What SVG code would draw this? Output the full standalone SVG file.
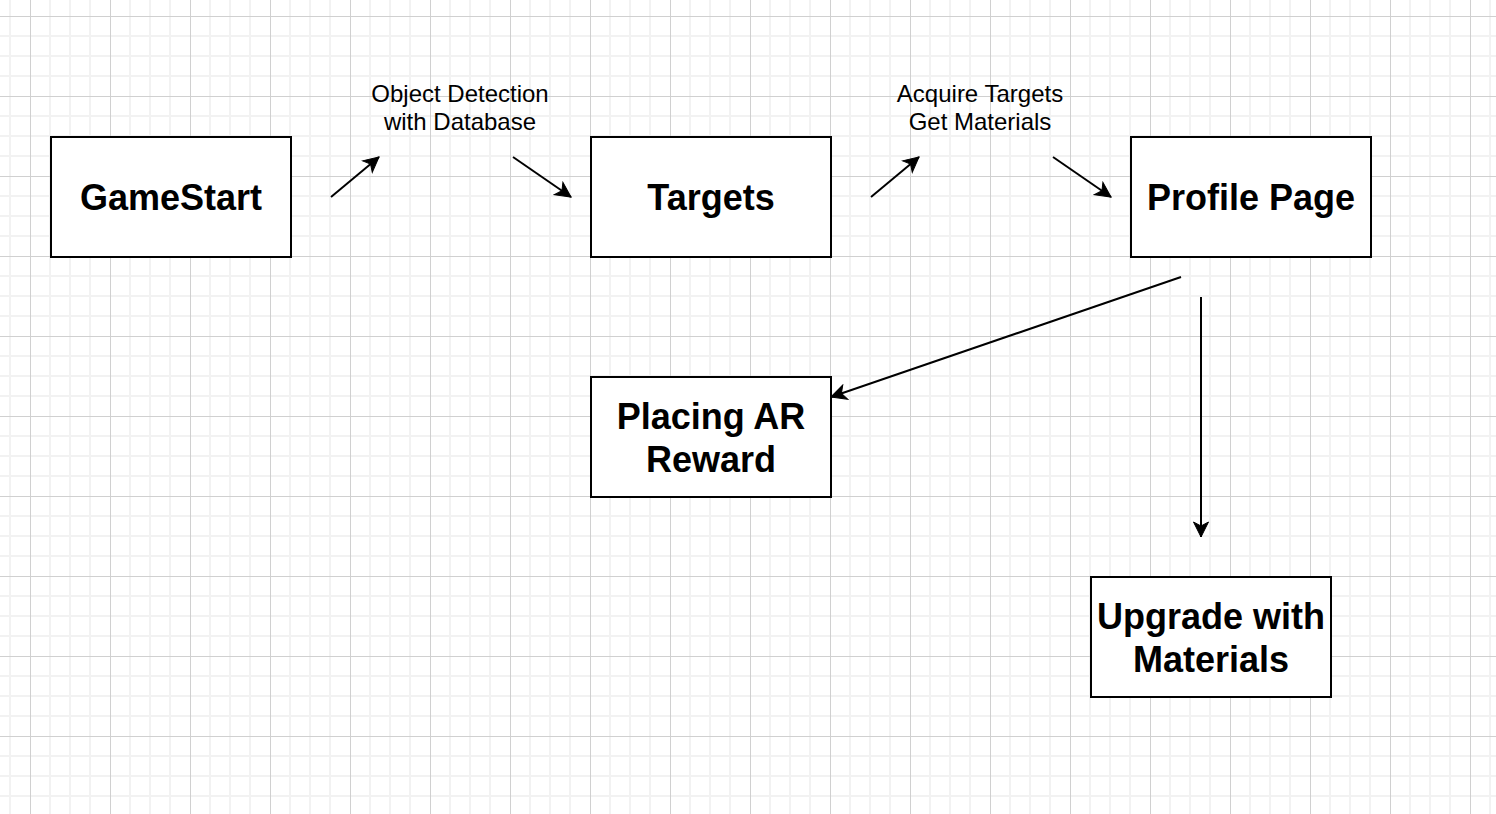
<svg xmlns="http://www.w3.org/2000/svg" width="1496" height="814" viewBox="0 0 1496 814">
<style>
.node rect{fill:#ffffff;stroke:#000000;stroke-width:2}
.nt{font-family:"Liberation Sans",Arial,Helvetica,sans-serif;font-size:36px;font-weight:bold;fill:#000;text-anchor:middle}
.lt{font-family:"Liberation Sans",Arial,Helvetica,sans-serif;font-size:24px;fill:#000;text-anchor:middle}
.conn line{stroke:#000;stroke-width:2;fill:none}
</style>
<defs>
<pattern id="grid" x="30" y="16" width="80" height="80" patternUnits="userSpaceOnUse">
<path d="M20 0V80M40 0V80M60 0V80M0 20H80M0 40H80M0 60H80" stroke="#f2f2f2" stroke-width="2" fill="none"/>
<path d="M0.5 0V80M0 0.5H80" stroke="#d0d0d0" stroke-width="1" fill="none"/>
</pattern>
<marker id="arr" markerUnits="userSpaceOnUse" markerWidth="20" markerHeight="20" viewBox="-16 -10 20 20" refX="0" refY="0" orient="auto">
<path d="M0 0L-15 -7.5L-11 0L-15 7.5Z" fill="#000" stroke="#000" stroke-width="1"/>
</marker>
</defs>
<rect width="1496" height="814" fill="#ffffff"/>
<rect width="1496" height="814" fill="url(#grid)"/>
<g id="connectors" class="conn">
<line x1="331" y1="197" x2="379" y2="157" marker-end="url(#arr)"/>
<line x1="513" y1="157" x2="571" y2="197" marker-end="url(#arr)"/>
<line x1="871" y1="197" x2="919" y2="157" marker-end="url(#arr)"/>
<line x1="1053" y1="157" x2="1111" y2="197" marker-end="url(#arr)"/>
<line x1="1181" y1="277" x2="831" y2="397" marker-end="url(#arr)"/>
<line x1="1201" y1="297" x2="1201" y2="537" marker-end="url(#arr)"/>
</g>
<g id="label-object-detection">
<text class="lt" x="460" y="101.5">Object Detection</text>
<text class="lt" x="460" y="129.5">with Database</text>
</g>
<g id="label-acquire-targets">
<text class="lt" x="980" y="101.5">Acquire Targets</text>
<text class="lt" x="980" y="129.5">Get Materials</text>
</g>
<g id="node-gamestart" class="node">
<rect x="51" y="137" width="240" height="120"/>
<text class="nt" x="171" y="210">GameStart</text>
</g>
<g id="node-targets" class="node">
<rect x="591" y="137" width="240" height="120"/>
<text class="nt" x="711" y="210">Targets</text>
</g>
<g id="node-profile" class="node">
<rect x="1131" y="137" width="240" height="120"/>
<text class="nt" x="1251" y="210">Profile Page</text>
</g>
<g id="node-placing" class="node">
<rect x="591" y="377" width="240" height="120"/>
<text class="nt" x="711" y="429">Placing AR</text>
<text class="nt" x="711" y="472">Reward</text>
</g>
<g id="node-upgrade" class="node">
<rect x="1091" y="577" width="240" height="120"/>
<text class="nt" x="1211" y="629">Upgrade with</text>
<text class="nt" x="1211" y="672">Materials</text>
</g>
</svg>
